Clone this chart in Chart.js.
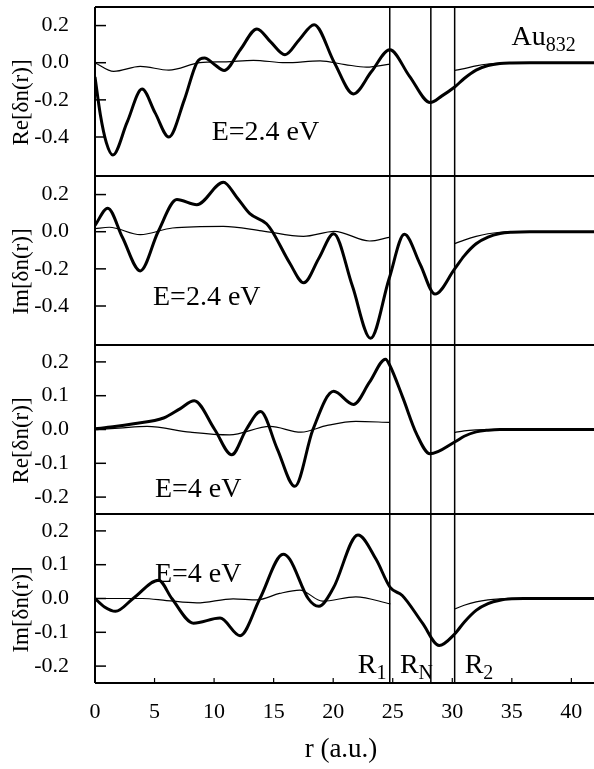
<!DOCTYPE html>
<html>
<head>
<meta charset="utf-8">
<title>Au832 δn(r)</title>
<script src="https://cdn.jsdelivr.net/npm/chart.js@4.4.1/dist/chart.umd.min.js"></script>
<style>
  body { margin: 0; background: #fff; }
  canvas { display: block; }
</style>
</head>
<body>
<canvas id="grafico" width="594" height="769"></canvas>
<script>
// values, r in a.u.
// panel 1: Re, E=2.4 eV
const rReA = [0, 0.45, 0.95, 1.5, 2.7, 3.95, 5.05, 6.2, 7.5, 8.55, 9.2, 10.0, 10.85, 12.2, 13.6, 14.75, 15.95, 17.15, 18.4, 20.1, 21.7, 23.2, 24.75, 26.4, 28.15, 29.1, 30.2, 31.0, 32.0, 33.0, 34.0, 35.0, 36.5, 42];
const reA = [-0.077, -0.28, -0.43, -0.497, -0.32, -0.142, -0.27, -0.40, -0.20, 0.0, 0.025, -0.008, -0.042, 0.07, 0.182, 0.112, 0.043, 0.124, 0.205, 0.0, -0.168, -0.049, 0.07, -0.072, -0.214, -0.18, -0.131, -0.085, -0.04, -0.015, -0.004, -0.001, 0, 0];
const rReAfina = [0, 1.57, 3.8, 6.2, 8.8, 11.0, 13.3, 16.0, 18.9, 21.0, 22.8, 24.75, 27.5, 30.2, 31.0, 32.0, 33.0, 34.0, 35.0, 42];
const reAfina = [0, -0.047, -0.02, -0.04, 0, 0.005, 0.013, 0.0, 0.01, -0.01, -0.024, -0.008, null, -0.042, -0.032, -0.017, -0.007, -0.002, 0, 0];

// panel 2: Im, E=2.4 eV
const rImA = [0, 1.07, 2.3, 3.8, 5.3, 6.88, 8.55, 10.78, 11.9, 13.0, 14.4, 14.9, 16.36, 17.53, 18.8, 20.04, 21.6, 23.14, 24.7, 25.98, 27.3, 28.55, 30.2, 31.0, 32.0, 33.0, 34.0, 35.0, 36.5, 42];
const imA = [0.034, 0.127, -0.03, -0.211, 0.0, 0.173, 0.145, 0.266, 0.186, 0.097, 0.043, 0.0, -0.17, -0.275, -0.143, -0.011, -0.29, -0.574, -0.252, -0.014, -0.175, -0.336, -0.2, -0.13, -0.065, -0.029, -0.01, -0.003, 0, 0];
const rImAfina = [0, 1.2, 3.8, 6.5, 10.78, 14.0, 17.5, 20.1, 23.05, 24.7, 27.5, 30.2, 31.0, 32.0, 33.0, 34.0, 35.0, 42];
const imAfina = [0.016, 0.024, -0.016, 0.02, 0.029, 0.005, -0.025, 0.002, -0.05, -0.03, null, -0.064, -0.045, -0.025, -0.011, -0.003, 0, 0];

// panel 3: Re, E=4 eV
const rReB = [0, 1.5, 3.25, 5.76, 7.13, 8.33, 10.05, 11.48, 12.7, 13.9, 15.3, 16.78, 18.3, 20.04, 21.7, 23.05, 24.4, 24.75, 25.84, 27.0, 28.13, 30.2, 31.0, 32.0, 33.0, 34.0, 42];
const reB = [0.002, 0.008, 0.017, 0.034, 0.061, 0.085, 0.0, -0.075, 0.0, 0.053, -0.057, -0.168, 0.0, 0.113, 0.074, 0.14, 0.208, 0.19, 0.095, -0.013, -0.072, -0.037, -0.02, -0.007, -0.002, 0, 0];
const rReBfina = [0, 2.0, 4.37, 8.0, 11.3, 14.7, 17.3, 19.5, 21.9, 24.75, 27.5, 30.2, 31.0, 32.0, 33.0, 42];
const reBfina = [0, 0.004, 0.009, -0.008, -0.016, 0.009, -0.008, 0.012, 0.024, 0.021, null, -0.009, -0.004, -0.001, 0, 0];

// panel 4: Im, E=4 eV
const rImB = [0, 0.8, 1.72, 3.2, 5.34, 6.45, 8.27, 10.5, 12.18, 13.85, 15.8, 16.36, 17.9, 18.8, 20.0, 22.08, 23.6, 24.8, 25.8, 27.5, 28.9, 30.2, 31.0, 32.0, 33.0, 34.0, 35.0, 36.0, 42];
const imB = [0.0, -0.025, -0.038, 0.0, 0.054, 0.0, -0.073, -0.058, -0.11, 0.0, 0.131, 0.116, 0.0, -0.023, 0.03, 0.188, 0.116, 0.032, 0.009, -0.073, -0.139, -0.105, -0.07, -0.035, -0.015, -0.005, -0.001, 0, 0];
const rImBfina = [0, 4.0, 6.0, 8.55, 11.6, 13.6, 15.5, 17.2, 19.1, 21.9, 24.8, 27.5, 30.2, 31.0, 32.0, 33.0, 34.0, 35.0, 42];
const imBfina = [0, 0.0, -0.006, -0.013, -0.001, -0.004, 0.015, 0.025, -0.008, 0.005, -0.016, null, -0.031, -0.02, -0.01, -0.004, -0.001, 0, 0];

// R1, RN, R2
const limites = [24.75, 28.2, 30.2];
const xTicks = [0, 5, 10, 15, 20, 25, 30, 35, 40];
const ticksLargos = [0.2, 0.0, -0.2, -0.4];
const ticksCurtos = [0.2, 0.1, 0.0, -0.1, -0.2];

const FONTE = '"Liberation Serif", "Times New Roman", serif';

const paineis = [
  { id: "y1", titulo: "Re[δn(r)]", min: -0.61, max: 0.30, ticks: ticksLargos, grossa: [rReA, reA], fina: [rReAfina, reAfina] },
  { id: "y2", titulo: "Im[δn(r)]", min: -0.61, max: 0.30, ticks: ticksLargos, grossa: [rImA, imA], fina: [rImAfina, imAfina] },
  { id: "y3", titulo: "Re[δn(r)]", min: -0.25, max: 0.25, ticks: ticksCurtos, grossa: [rReB, reB], fina: [rReBfina, reBfina] },
  { id: "y4", titulo: "Im[δn(r)]", min: -0.25, max: 0.25, ticks: ticksCurtos, grossa: [rImB, imB], fina: [rImBfina, imBfina] }
];

// text placed in data coordinates of each panel
const rotulosE = [
  { texto: "E=2.4 eV", eixo: "y1", r: 9.8, v: -0.416 },
  { texto: "E=2.4 eV", eixo: "y2", r: 4.87, v: -0.397 },
  { texto: "E=4 eV", eixo: "y3", r: 5.03, v: -0.2 },
  { texto: "E=4 eV", eixo: "y4", r: 5.03, v: 0.048 }
];
const rotulosR = [
  { base: "R", sub: "1", r: 22.06 },
  { base: "R", sub: "N", r: 25.6 },
  { base: "R", sub: "2", r: 31.04 }
];

const pontos = (xs, ys) => xs.map((x, i) => ({ x: x, y: ys[i] }));

const linhaBase = {
  borderColor: "#000",
  backgroundColor: "#000",
  pointRadius: 0,
  fill: false,
  spanGaps: false,
  cubicInterpolationMode: "monotone"
};

const datasets = [];
const scales = {
  x: {
    type: "linear", min: 0, max: 41.9,
    grid: { display: false }, border: { display: false },
    ticks: { color: "#000", font: { family: FONTE, size: 22 }, padding: 8, autoSkip: false, maxRotation: 0 },
    afterBuildTicks: s => { s.ticks = xTicks.map(v => ({ value: v })); },
    afterFit: s => { s.height = 86; s.paddingLeft = 0; s.paddingRight = 0; }
  }
};

paineis.forEach((p, i) => {
  datasets.push({ ...linhaBase, data: pontos(p.grossa[0], p.grossa[1]), yAxisID: p.id, borderWidth: 3 });
  datasets.push({ ...linhaBase, data: pontos(p.fina[0], p.fina[1]), yAxisID: p.id, borderWidth: 1.2 });
  scales[p.id] = {
    type: "linear", position: "left", stack: "paineis", stackWeight: 1, weight: 4 - i,
    min: p.min, max: p.max,
    grid: { display: false }, border: { display: false },
    ticks: { color: "#000", font: { family: FONTE, size: 22 }, padding: 18, autoSkip: false, callback: v => v.toFixed(1) },
    afterBuildTicks: s => { s.ticks = p.ticks.map(v => ({ value: v })); },
    afterFit: s => { s.width = 95; s.paddingTop = 0; s.paddingBottom = 0; }
  };
});

function escreveSub(ctx, x, y, base, sub, tam) {
  ctx.font = tam + "px " + FONTE;
  ctx.fillText(base, x, y);
  const w = ctx.measureText(base).width;
  ctx.font = Math.round(tam * 0.7) + "px " + FONTE;
  ctx.fillText(sub, x + w, y + 6);
}

// frame, inward ticks, R lines and labels
const moldura = {
  id: "moldura",
  afterDraw(chart) {
    const { ctx, chartArea: a, scales: sc } = chart;
    const linha = (x1, y1, x2, y2, w) => {
      ctx.lineWidth = w;
      ctx.beginPath(); ctx.moveTo(x1, y1); ctx.lineTo(x2, y2); ctx.stroke();
    };
    ctx.save();
    ctx.strokeStyle = "#000";
    ctx.fillStyle = "#000";

    paineis.forEach(p => {
      const s = sc[p.id];
      linha(a.left, s.top, a.right, s.top, 2);
      s.ticks.forEach(t => {
        const y = s.getPixelForValue(t.value);
        linha(a.left, y, a.left + 11, y, 1.5);
      });
      ctx.save();
      ctx.translate(22, (s.top + s.bottom) / 2 + 11);
      ctx.rotate(-Math.PI / 2);
      ctx.font = "23px " + FONTE;
      ctx.textAlign = "center";
      ctx.textBaseline = "middle";
      ctx.fillText(p.titulo, 0, 0);
      ctx.restore();
    });
    linha(a.left, a.bottom, a.right, a.bottom, 2);
    linha(a.left, a.top, a.left, a.bottom, 2);
    sc.x.ticks.forEach(t => {
      const x = sc.x.getPixelForValue(t.value);
      linha(x, a.bottom, x, a.bottom - 5, 1.2);
    });
    limites.forEach(r => {
      const x = sc.x.getPixelForValue(r);
      linha(x, a.top, x, a.bottom, 1.5);
    });

    ctx.textAlign = "left";
    ctx.textBaseline = "alphabetic";
    ctx.font = "28px " + FONTE;
    rotulosE.forEach(l => {
      ctx.fillText(l.texto, sc.x.getPixelForValue(l.r), sc[l.eixo].getPixelForValue(l.v));
    });
    rotulosR.forEach(l => {
      escreveSub(ctx, sc.x.getPixelForValue(l.r), sc.y4.getPixelForValue(-0.221), l.base, l.sub, 28);
    });
    escreveSub(ctx, sc.x.getPixelForValue(34.98), sc.y1.getPixelForValue(0.097), "Au", "832", 28);

    ctx.textAlign = "center";
    ctx.font = "27px " + FONTE;
    ctx.fillText("r (a.u.)", 341, 757);
    ctx.restore();
  }
};

new Chart(document.getElementById("grafico"), {
  type: "line",
  data: { datasets: datasets },
  options: {
    responsive: false,
    animation: false,
    layout: { padding: { top: 7, left: 0, right: 0, bottom: 0 } },
    plugins: { legend: { display: false }, tooltip: { enabled: false }, colors: { enabled: false } },
    scales: scales
  },
  plugins: [moldura]
});
</script>
</body>
</html>
